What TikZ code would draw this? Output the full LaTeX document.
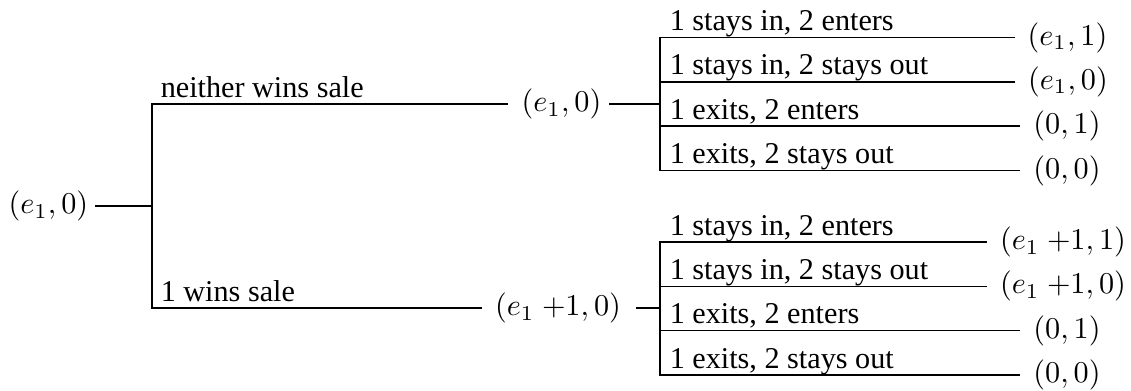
\documentclass[tikz,border=0pt]{standalone}
\usepackage[no-math]{fontspec}
\setmainfont{Liberation Serif}
\begin{document}
\begin{tikzpicture}[x=0.3311pt, y=-0.3311pt, line width=0.5pt, line cap=rect,
  lbl/.style={anchor=base west, inner sep=0pt},
  pay/.style={inner sep=0pt}]
\useasboundingbox (0,0) rectangle (1131,390);
% root
\node[pay, anchor=east] (root) at (89,206) {$(e_1,0)$};
\coordinate (j0) at (152,206);
\coordinate (j0t) at (152,104);
\coordinate (j0b) at (152,308);
\draw[shorten <=2.3pt] (root.east) -- (j0);
\draw (j0t) -- (j0b);
% first-level branches
\node[lbl] (l0) at (160,97) {neither wins sale};
\node[lbl] (l1) at (160,301.5) {1 wins sale};
\node[pay] (A) at (561.5,104) {$(e_1,0)$};
\node[pay] (B) at (558,308) {$(e_1\ {+}1,0)$};
\draw[shorten >=4.6pt] (j0t) -- (A.west);
\draw[shorten >=4.3pt] (j0b) -- (B.west);
\coordinate (j1) at (660,104);
\coordinate (j2) at (660,308);
\draw[shorten <=2.6pt] (A.east) -- (j1);
\draw[shorten <=5pt] (B.east) -- (j2);
% top group
\foreach \n/\y/\cx/\lab/\pa in {
  1/37.5/1067.5/{1 stays in, 2 enters}/{$(e_1,1)$},
  2/81.8/1068/{1 stays in, 2 stays out}/{$(e_1,0)$},
  3/126.2/1067/{1 exits, 2 enters}/{$(0,1)$},
  4/170.5/1067/{1 exits, 2 stays out}/{$(0,0)$}}
{
  \coordinate (ta\n) at (660,\y);
  \node[pay] (tp\n) at (\cx,\y) {\pa};
  \node[lbl] (tl\n) at (669,{\y-7}) {\lab};
  \draw[shorten >=4.3pt] (ta\n) -- (tp\n.west);
}
\draw (ta1) -- (ta4);
% bottom group
\foreach \n/\y/\cx/\lab/\pa in {
  1/242/1063/{1 stays in, 2 enters}/{$(e_1\ {+}1,1)$},
  2/286.3/1063/{1 stays in, 2 stays out}/{$(e_1\ {+}1,0)$},
  3/330.7/1067/{1 exits, 2 enters}/{$(0,1)$},
  4/375/1067/{1 exits, 2 stays out}/{$(0,0)$}}
{
  \coordinate (ba\n) at (660,\y);
  \node[pay] (bp\n) at (\cx,\y) {\pa};
  \node[lbl] (bl\n) at (669,{\y-7}) {\lab};
  \draw[shorten >=4.5pt] (ba\n) -- (bp\n.west);
}
\draw (ba1) -- (ba4);
\end{tikzpicture}
\end{document}
